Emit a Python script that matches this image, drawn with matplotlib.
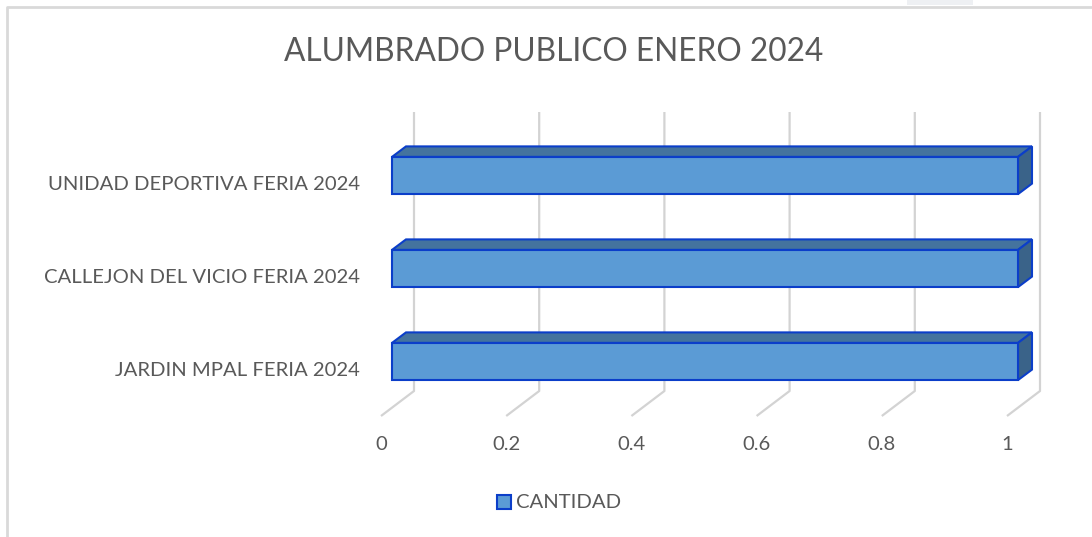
import matplotlib
matplotlib.use("Agg")
import matplotlib.pyplot as plt
import matplotlib.patches as patches
from matplotlib.transforms import offset_copy

categories = ["JARDIN MPAL FERIA 2024", "CALLEJON DEL VICIO FERIA 2024",
              "UNIDAD DEPORTIVA FERIA 2024"]
values = [1, 1, 1]
x_ticks = [0, 0.2, 0.4, 0.6, 0.8, 1]
x_tick_labels = ["0", "0.2", "0.4", "0.6", "0.8", "1"]
series_name = "CANTIDAD"
title = "ALUMBRADO PUBLICO ENERO 2024"

FRONT = "#5b9bd5"
TOP = "#44739e"
SIDE = "#3a6389"
EDGE = "#0b3ec9"
GRID = "#d3d3d3"
TEXT = "#595959"
FONT = ["Lato", "DejaVu Sans"]

W, H = 1092, 537
fig = plt.figure(figsize=(W / 100, H / 100), dpi=100)

# axes = plane of the bar front faces, in pixels
ax = fig.add_axes([392 / W, (H - 408) / H, 626 / W, (408 - 129) / H])
ax.set_xlim(0, 1)
ax.set_ylim(-0.5, len(categories) - 0.5)
ax.axis("off")

# depth offsets in pixels (x right, y up) from the bar plane
BACK = (22, 17)
FRONT_FLOOR = (-11, -8)
BAR_DEPTH = (14, 10.5)
BAR_H = 0.4


def px_to_data(dx, dy):
    sx = (ax.get_xlim()[1] - ax.get_xlim()[0]) / 626
    sy = (ax.get_ylim()[1] - ax.get_ylim()[0]) / (408 - 129)
    return dx * sx, dy * sy


ymin, ymax = ax.get_ylim()
bx, by = px_to_data(*BACK)
fx, fy = px_to_data(*FRONT_FLOOR)
for t in x_ticks:
    ax.plot([t + bx, t + bx, t + fx], [ymax + by, ymin + by, ymin + fy],
            color=GRID, lw=1.6, solid_capstyle="butt", zorder=1, clip_on=False)

ddx, ddy = px_to_data(*BAR_DEPTH)
for i, v in enumerate(values):
    y0, y1 = i - BAR_H / 2, i + BAR_H / 2
    top = patches.Polygon([(0, y1), (v, y1), (v + ddx, y1 + ddy), (ddx, y1 + ddy)],
                          closed=True, fc=TOP, ec=EDGE, lw=1.5, zorder=3)
    side = patches.Polygon([(v, y0), (v + ddx, y0 + ddy), (v + ddx, y1 + ddy), (v, y1)],
                           closed=True, fc=SIDE, ec=EDGE, lw=1.5, zorder=3)
    front = patches.Rectangle((0, y0), v, BAR_H, fc=FRONT, ec=EDGE, lw=1.5, zorder=4)
    for p in (top, side, front):
        p.set_clip_on(False)
        ax.add_patch(p)

# category labels (front floor plane)
lab_tr = offset_copy(ax.get_yaxis_transform(), fig=fig, x=-32, y=-9, units="dots")
for i, c in enumerate(categories):
    ax.text(0, i, c, transform=lab_tr, ha="right", va="center",
            fontsize=14.6, color=TEXT, family=FONT)

tick_tr = offset_copy(ax.get_xaxis_transform(), fig=fig, x=FRONT_FLOOR[0], y=-36,
                      units="dots")
for t, lab in zip(x_ticks, x_tick_labels):
    ax.text(t, 0, lab, transform=tick_tr, ha="center", va="center",
            fontsize=14.6, color=TEXT, family=FONT)

fig.text(554 / W, 1 - 52 / H, title, ha="center", va="center",
         fontsize=22.8, color=TEXT, family=FONT)

# legend
fig.patches.append(patches.Rectangle((497 / W, 1 - 509 / H), 14 / W, 14 / H,
                                     transform=fig.transFigure, fc=FRONT, ec=EDGE, lw=1.5))
fig.text(516 / W, 1 - 502 / H, series_name, ha="left", va="center",
         fontsize=14.6, color=TEXT, family=FONT)

# chart border
fig.add_artist(plt.Line2D([6.5 / W, 6.5 / W, 1], [0, 1 - 6.5 / H, 1 - 6.5 / H],
                          transform=fig.transFigure, color="#d9d9d9", lw=2))
fig.patches.append(patches.Rectangle((907 / W, 1 - 5 / H), 66 / W, 5 / H,
                                     transform=fig.transFigure, fc="#eef0f3", ec="none"))

fig.savefig("out.png", dpi=100)
